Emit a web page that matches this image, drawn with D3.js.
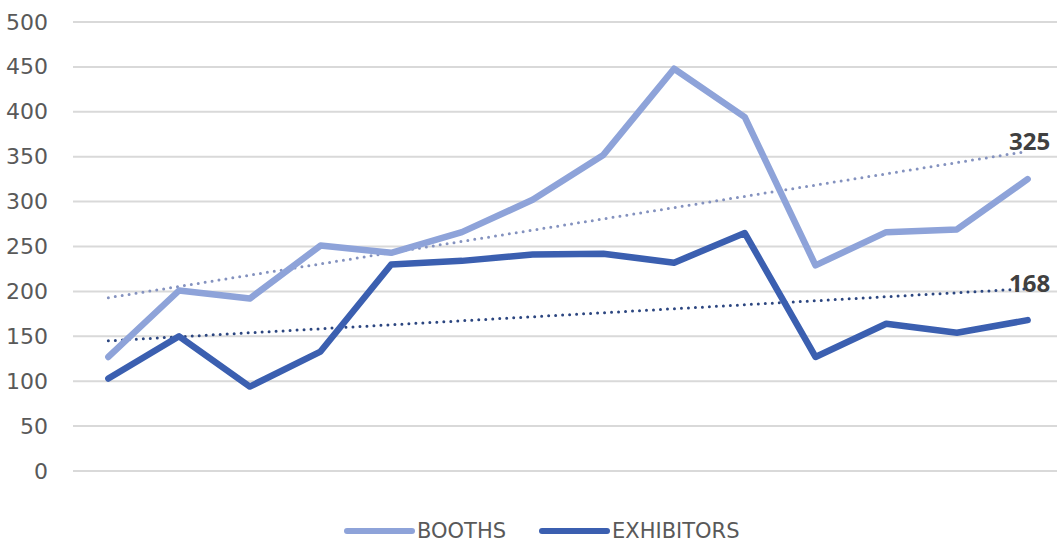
<!DOCTYPE html>
<html><head><meta charset="utf-8">
<script src="https://cdn.jsdelivr.net/npm/d3@7"></script>
<style>
html,body{margin:0;padding:0;background:#fff;}
svg{display:block;font-family:"DejaVu Sans",sans-serif;}
</style></head>
<body><svg id="c" width="1057" height="545"></svg>
<script>
const categories = d3.range(1, 15).map(String);
const booths = [127, 201, 192, 251, 243, 266, 302, 352, 448, 394, 229, 266, 269, 325];
const exhibitors = [103, 150, 94, 133, 230, 234, 241, 242, 232, 265, 127, 164, 154, 168];
const boothsTrend = [193, 356];
const exhibitorsTrend = [145, 203];
const yTicks = [0, 50, 100, 150, 200, 250, 300, 350, 400, 450, 500];
const seriesNames = ["BOOTHS", "EXHIBITORS"];

const svg = d3.select("#c");
const M = {left: 73, right: 1063, top: 22, bottom: 471};
const x = d3.scalePoint().domain(categories).range([M.left, M.right]).padding(0.5);
const y = d3.scaleLinear().domain([0, 500]).range([M.bottom, M.top]);

const colB = "#8ea3d9", colE = "#3b5fb0";

// grid
svg.append("g").selectAll("line").data(yTicks).join("line")
  .attr("x1", M.left).attr("x2", 1057)
  .attr("y1", d => y(d)).attr("y2", d => y(d))
  .attr("stroke", "#d9d9d9").attr("stroke-width", 2);

// y axis labels
const yAxis = d3.axisLeft(y).tickValues(yTicks).tickSize(0).tickPadding(0);
const gA = svg.append("g").attr("transform", `translate(48,0)`).call(yAxis);
gA.select(".domain").remove();
gA.selectAll("text").attr("font-size", 22).attr("fill", "#595959")
  .attr("font-family", "'DejaVu Sans',sans-serif");

const first = categories[0], last = categories[categories.length - 1];
// trend lines (dotted)
function trend(vals, color) {
  svg.append("line")
    .attr("x1", x(first)).attr("x2", x(last))
    .attr("y1", y(vals[0])).attr("y2", y(vals[1]))
    .attr("stroke", color).attr("stroke-width", 3)
    .attr("stroke-dasharray", "0,7").attr("stroke-linecap", "round");
}
trend(boothsTrend, "#8492bf");
trend(exhibitorsTrend, "#2c4680");

const line = d3.line().x((d, i) => x(categories[i])).y(d => y(d));
svg.append("path").datum(booths).attr("d", line)
  .attr("fill", "none").attr("stroke", colB).attr("stroke-width", 6.5)
  .attr("stroke-linejoin", "round").attr("stroke-linecap", "round");
svg.append("path").datum(exhibitors).attr("d", line)
  .attr("fill", "none").attr("stroke", colE).attr("stroke-width", 6.5)
  .attr("stroke-linejoin", "round").attr("stroke-linecap", "round");

// end labels
function endLabel(trendVals, val, dy) {
  svg.append("text").attr("x", x(last) + 2).attr("y", y(trendVals[1]) + dy)
    .attr("text-anchor", "middle").attr("font-size", 24).attr("font-weight", "bold")
    .attr("font-family", "'Open Sans',sans-serif")
    .attr("fill", "#404040").text(val);
}
endLabel(boothsTrend, booths[booths.length - 1], -1);
endLabel(exhibitorsTrend, exhibitors[exhibitors.length - 1], 3);

// legend
const leg = [{name: seriesNames[0], color: colB, x1: 347, x2: 412},
             {name: seriesNames[1], color: colE, x1: 542, x2: 607}];
const lg = svg.append("g");
leg.forEach(l => {
  lg.append("line").attr("x1", l.x1).attr("x2", l.x2).attr("y1", 531).attr("y2", 531)
    .attr("stroke", l.color).attr("stroke-width", 6).attr("stroke-linecap", "round");
  lg.append("text").attr("x", l.x2 + 5).attr("y", 538).attr("font-size", 21)
    .attr("fill", "#595959").text(l.name);
});
</script></body></html>
